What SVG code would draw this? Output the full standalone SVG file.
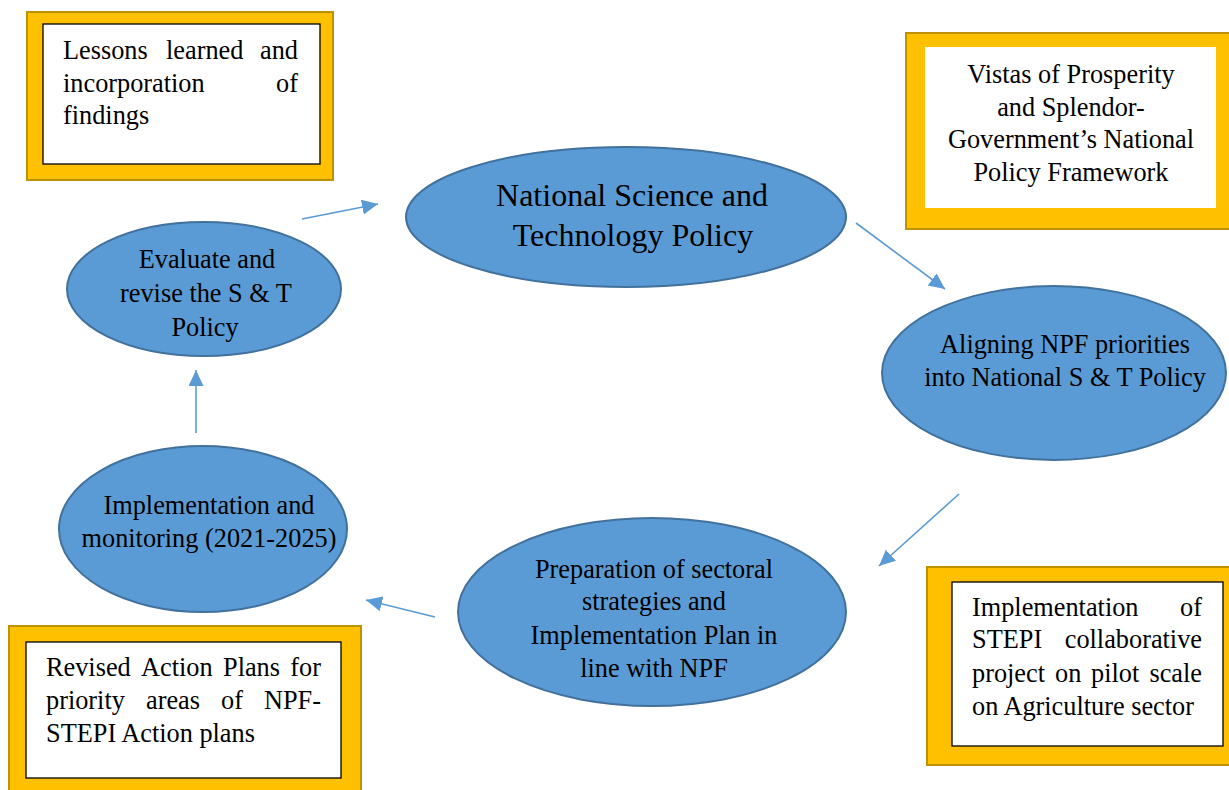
<svg xmlns="http://www.w3.org/2000/svg" width="1229" height="790" viewBox="0 0 1229 790">
<style>
.outer{fill:#FFC000;stroke:#BF9000;stroke-width:2}
.inner{fill:#FFFFFF;stroke:#000000;stroke-width:1.3}
.innerN{fill:#FFFFFF;stroke:none}
.ell{fill:#5B9BD5;stroke:#41719C;stroke-width:2}
.t{font-family:"Liberation Serif","Times New Roman",serif;font-size:26.3px;fill:#000000}
.c{text-anchor:middle}
.big{font-size:32px}
.arr{stroke:#5B9BD5;stroke-width:1.6;fill:none;marker-end:url(#ah)}
</style>
<defs>
<marker id="ah" markerUnits="userSpaceOnUse" markerWidth="18" markerHeight="16" refX="16" refY="7.5" orient="auto">
<path d="M0,0 L16,7.5 L0,15 Z" fill="#5B9BD5"/>
</marker>
</defs>
<rect width="1229" height="790" fill="#FFFFFF"/>

<g id="box-lessons">
<rect class="outer" x="27" y="12" width="306" height="168"/>
<rect class="inner" x="43" y="24" width="277" height="140"/>
<text class="t"><tspan x="63" y="59">Lessons</tspan><tspan x="166" y="59">learned</tspan><tspan x="298" y="59" text-anchor="end">and</tspan><tspan x="63" y="92">incorporation</tspan><tspan x="298" y="92" text-anchor="end">of</tspan><tspan x="63" y="124">findings</tspan></text>
</g>

<g id="box-vistas">
<rect class="outer" x="906" y="33" width="340" height="196"/>
<rect class="innerN" x="925" y="47" width="291" height="161"/>
<text class="t c"><tspan x="1071" y="83">Vistas of Prosperity</tspan><tspan x="1071" y="116">and Splendor-</tspan><tspan x="1071" y="148">Government’s National</tspan><tspan x="1071" y="181">Policy Framework</tspan></text>
</g>

<g id="box-stepi">
<rect class="outer" x="927" y="567" width="320" height="198"/>
<rect class="inner" x="952" y="582" width="271" height="164"/>
<text class="t"><tspan x="972" y="616">Implementation</tspan><tspan x="1202" y="616" text-anchor="end">of</tspan><tspan x="972" y="648">STEPI</tspan><tspan x="1202" y="648" text-anchor="end">collaborative</tspan><tspan x="972" y="682">project</tspan><tspan x="1055" y="682">on</tspan><tspan x="1091" y="682">pilot</tspan><tspan x="1202" y="682" text-anchor="end">scale</tspan><tspan x="972" y="715">on Agriculture sector</tspan></text>
</g>

<g id="box-revised">
<rect class="outer" x="9" y="626" width="352" height="180"/>
<rect class="inner" x="26" y="642" width="315" height="136"/>
<text class="t"><tspan x="46" y="676">Revised</tspan><tspan x="141" y="676">Action</tspan><tspan x="223" y="676">Plans</tspan><tspan x="321" y="676" text-anchor="end">for</tspan><tspan x="46" y="709">priority</tspan><tspan x="146" y="709">areas</tspan><tspan x="221" y="709">of</tspan><tspan x="321" y="709" text-anchor="end">NPF-</tspan><tspan x="46" y="742">STEPI Action plans</tspan></text>
</g>

<g id="node-nstp">
<ellipse class="ell" cx="626" cy="217" rx="220" ry="70"/>
<text class="t c big"><tspan x="632" y="206">National Science and</tspan><tspan x="633" y="246">Technology Policy</tspan></text>
</g>

<g id="node-evaluate">
<ellipse class="ell" cx="204" cy="289" rx="137" ry="67"/>
<text class="t c"><tspan x="207" y="268">Evaluate and</tspan><tspan x="206" y="302">revise the S &amp; T</tspan><tspan x="205" y="336">Policy</tspan></text>
</g>

<g id="node-aligning">
<ellipse class="ell" cx="1054" cy="373" rx="172" ry="87"/>
<text class="t c"><tspan x="1065" y="353">Aligning NPF priorities</tspan><tspan x="1065" y="386">into National S &amp; T Policy</tspan></text>
</g>

<g id="node-implementation">
<ellipse class="ell" cx="203" cy="529" rx="144" ry="83"/>
<text class="t c"><tspan x="209" y="514">Implementation and</tspan><tspan x="209" y="547">monitoring (2021-2025)</tspan></text>
</g>

<g id="node-preparation">
<ellipse class="ell" cx="652" cy="612" rx="194" ry="94"/>
<text class="t c"><tspan x="654" y="578">Preparation of sectoral</tspan><tspan x="654" y="610">strategies and</tspan><tspan x="654" y="644">Implementation Plan in</tspan><tspan x="654" y="677">line with NPF</tspan></text>
</g>

<g id="connectors">
<line class="arr" x1="302" y1="219" x2="378" y2="204"/>
<line class="arr" x1="856" y1="223" x2="945" y2="289"/>
<line class="arr" x1="959" y1="494" x2="879" y2="566"/>
<line class="arr" x1="435" y1="617" x2="366" y2="600"/>
<line class="arr" x1="196" y1="433" x2="196" y2="370"/>
</g>
</svg>
